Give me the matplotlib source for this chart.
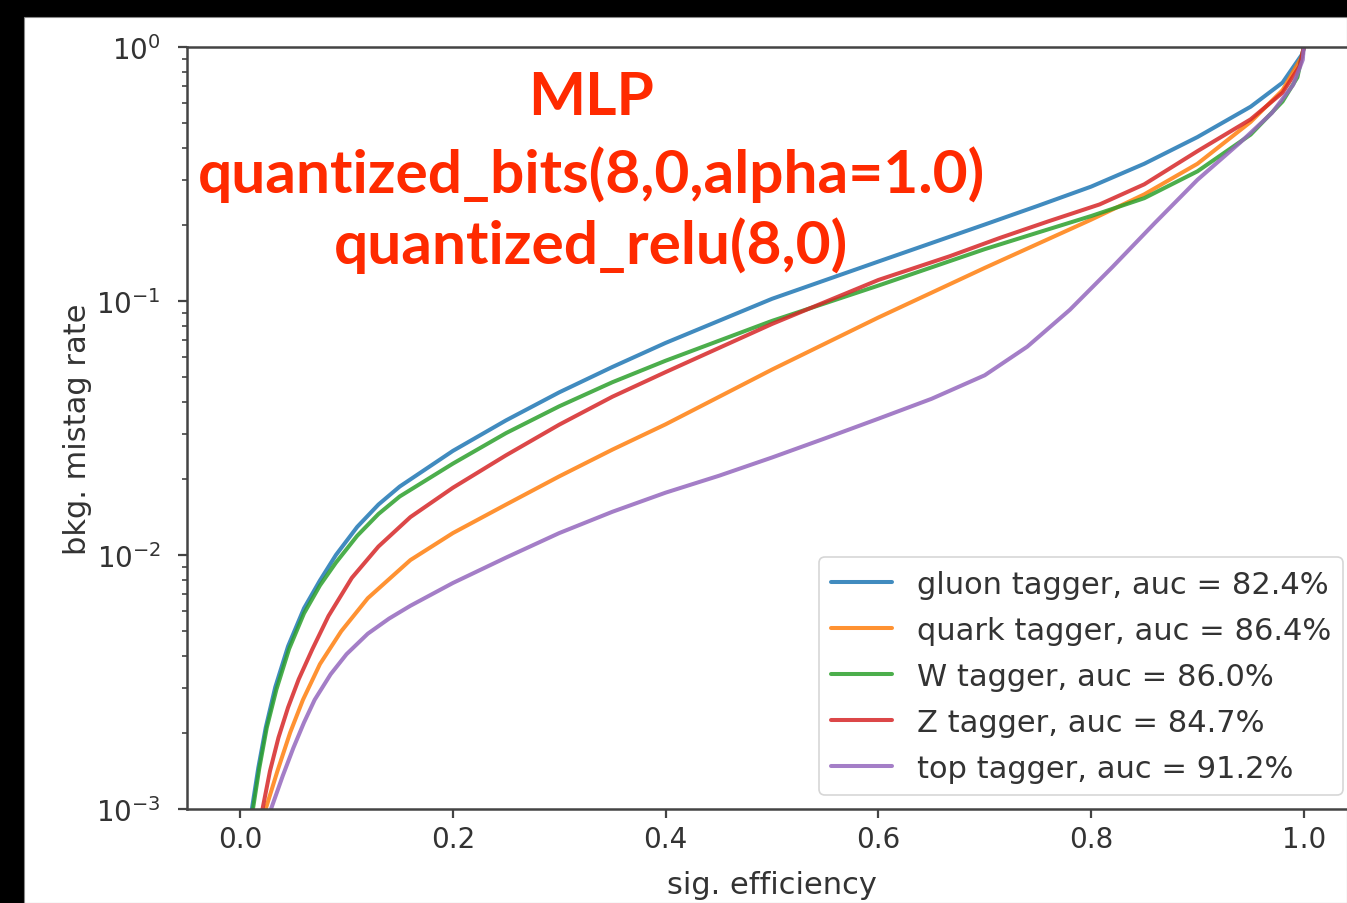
import matplotlib
matplotlib.use("Agg")
import matplotlib.pyplot as plt
from matplotlib.patches import Rectangle

# ---------------- data ----------------
gluon_x = [0.011, 0.017, 0.024, 0.033, 0.045, 0.060, 0.075, 0.090, 0.110, 0.130, 0.150, 0.200,
           0.250, 0.300, 0.350, 0.400, 0.500, 0.600, 0.700, 0.750, 0.800, 0.850, 0.900, 0.950,
           0.980, 0.999, 1.0]
gluon_y = [0.00100, 0.00145, 0.00209, 0.00302, 0.00437, 0.00617, 0.00794, 0.0100, 0.0129, 0.0158,
           0.0186, 0.0257, 0.0339, 0.0437, 0.0550, 0.0684, 0.102, 0.143, 0.200, 0.237, 0.282,
           0.347, 0.442, 0.582, 0.724, 0.944, 1.0]

quark_x = [0.024, 0.035, 0.047, 0.059, 0.075, 0.095, 0.120, 0.160, 0.200, 0.250, 0.300, 0.350,
           0.400, 0.500, 0.600, 0.700, 0.800, 0.850, 0.900, 0.950, 0.980, 0.998, 1.0]
quark_y = [0.00100, 0.00141, 0.00200, 0.00269, 0.00372, 0.00501, 0.00676, 0.00955, 0.0122, 0.0158,
           0.0204, 0.0260, 0.0327, 0.0537, 0.0861, 0.135, 0.209, 0.263, 0.347, 0.507, 0.676,
           0.912, 1.0]

w_x = [0.012, 0.018, 0.025, 0.034, 0.046, 0.060, 0.075, 0.090, 0.110, 0.130, 0.150, 0.200,
       0.250, 0.300, 0.350, 0.400, 0.500, 0.600, 0.700, 0.750, 0.800, 0.850, 0.900, 0.950,
       0.980, 0.994, 1.0]
w_y = [0.00100, 0.00145, 0.00209, 0.00295, 0.00427, 0.00589, 0.00759, 0.00933, 0.0119, 0.0145,
       0.0170, 0.0229, 0.0302, 0.0385, 0.0479, 0.0582, 0.0835, 0.115, 0.160, 0.186, 0.216,
       0.254, 0.324, 0.452, 0.610, 0.760, 1.0]

z_x = [0.021, 0.028, 0.036, 0.045, 0.055, 0.068, 0.083, 0.105, 0.130, 0.160, 0.200, 0.250,
       0.300, 0.350, 0.400, 0.500, 0.600, 0.667, 0.714, 0.760, 0.808, 0.850, 0.900, 0.950,
       0.980, 0.996, 1.0]
z_y = [0.00100, 0.00141, 0.00191, 0.00251, 0.00324, 0.00427, 0.00575, 0.00813, 0.0108, 0.0141,
       0.0184, 0.0247, 0.0326, 0.0420, 0.0525, 0.0812, 0.121, 0.150, 0.177, 0.206, 0.240,
       0.288, 0.389, 0.519, 0.661, 0.841, 1.0]

top_x = [0.029, 0.040, 0.050, 0.060, 0.070, 0.085, 0.100, 0.120, 0.140, 0.160, 0.200, 0.250,
         0.300, 0.350, 0.400, 0.450, 0.500, 0.550, 0.600, 0.650, 0.700, 0.740, 0.780, 0.820,
         0.860, 0.900, 0.940, 0.970, 0.990, 0.999, 1.0]
top_y = [0.00100, 0.00135, 0.00174, 0.00219, 0.00269, 0.00339, 0.00407, 0.00490, 0.00562, 0.00631,
         0.00776, 0.00977, 0.0122, 0.0148, 0.0176, 0.0205, 0.0242, 0.0288, 0.0344, 0.0412,
         0.0510, 0.0661, 0.0923, 0.136, 0.203, 0.300, 0.420, 0.550, 0.710, 0.890, 1.0]

labels = ["gluon tagger, auc = 82.4%", "quark tagger, auc = 86.4%", "W tagger, auc = 86.0%",
          "Z tagger, auc = 84.7%", "top tagger, auc = 91.2%"]
colors = ["#1f77b4", "#ff7f0e", "#2ca02c", "#d62728", "#9467bd"]
title_lines = ["MLP", "quantized_bits(8,0,alpha=1.0)", "quantized_relu(8,0)"]
xticks = [0.0, 0.2, 0.4, 0.6, 0.8, 1.0]
xticklabels = ["0.0", "0.2", "0.4", "0.6", "0.8", "1.0"]

# ---------------- figure ----------------
W, H = 1347, 904
fig = plt.figure(figsize=(W / 100, H / 100), dpi=100, facecolor="black")
bg = Rectangle((24 / W, 0), 1 - 24 / W, 1 - 18 / H, transform=fig.transFigure,
               facecolor="white", edgecolor="#888888", linewidth=0.8, zorder=-10)
fig.patches.append(bg)

ax = fig.add_axes([187 / W, 1 - 810 / H, (1357 - 187) / W, (810 - 48) / H])
ax.set_zorder(5)
ax.set_facecolor("white")
txtcol = "#333333"
series = [(gluon_x, gluon_y), (quark_x, quark_y), (w_x, w_y), (z_x, z_y), (top_x, top_y)]
for (xs, ys), lab, c in zip(series, labels, colors):
    ax.plot(xs, ys, color=c, lw=2.9, label=lab, alpha=0.85, solid_capstyle="round",
            solid_joinstyle="round")

ax.set_yscale("log")
ax.set_xlim(-0.05, 1.05)
ax.set_ylim(1e-3, 1.0)
ax.set_xticks(xticks)
ax.set_xticklabels(xticklabels)
ax.tick_params(axis="both", which="major", labelsize=20, length=6.8, width=1.6,
               colors="#444444", labelcolor=txtcol)
ax.tick_params(axis="x", which="major", pad=5)
ax.tick_params(axis="y", which="major", pad=12)
ax.tick_params(axis="y", which="minor", length=3.9, width=1.2, colors="#444444")
for s in ax.spines.values():
    s.set_linewidth(1.8)
    s.set_color("#444444")
ax.set_xlabel("sig. efficiency", fontsize=22, color=txtcol, labelpad=12)
ax.set_ylabel("bkg. mistag rate", fontsize=22, color=txtcol, labelpad=3)

leg = ax.legend(loc="lower right", fontsize=22, frameon=True, borderaxespad=0.45,
                labelspacing=0.56)
leg.get_frame().set_edgecolor("#cccccc")
leg.get_frame().set_linewidth(1.2)
for t in leg.get_texts():
    t.set_color(txtcol)

# ---------------- red annotation ----------------
red = "#ff2a00"
baselines = [115, 193, 264]
tobjs = []
for line, yb in zip(title_lines, baselines):
    t = fig.text(591 / W, 1 - yb / H, line, color=red, fontsize=40, ha="center", va="baseline",
                 family=["Lato", "DejaVu Sans"], fontweight="bold", zorder=20)
    tobjs.append(t)
fig.canvas.draw()
r = fig.canvas.get_renderer()
wid = tobjs[1].get_window_extent(r).width
scale = 787.0 / wid
for t in tobjs:
    t.set_fontsize(40 * scale)

fig.savefig("out.png", dpi=100, facecolor=fig.get_facecolor())
